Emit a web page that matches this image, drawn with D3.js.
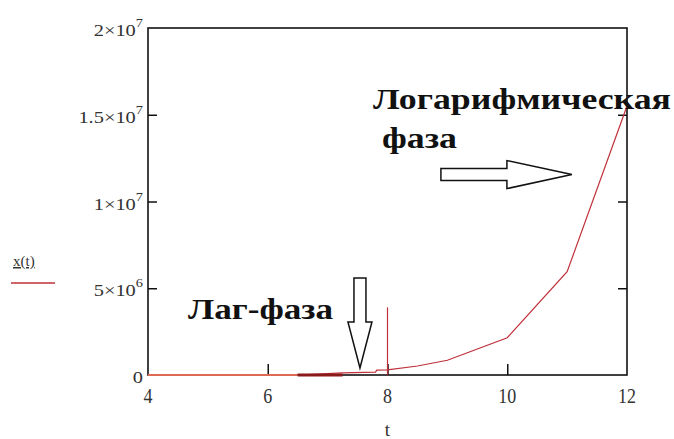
<!DOCTYPE html>
<html>
<head>
    <meta charset="utf-8">
    <script src="https://d3js.org/d3.v7.min.js"></script>
    <style>
        body { margin: 0; background: #fff; }
        .lbl { font-family: "Liberation Serif", serif; fill: #333; }
        .note { font-family: "Liberation Serif", serif; font-weight: bold; fill: #111; }
    </style>
</head>
<body>
    <div id="chart"></div>
    <script>
        // curve x(t)
        const tValues = [4, 6.5, 7.25, 7.8, 7.82, 8, 8.5, 9, 10, 11, 12];
        const xValues = [0, 0, 0.12e6, 0.17e6, 0.28e6, 0.3e6, 0.52e6, 0.85e6, 2.15e6, 5.95e6, 1.55e7];
        // lighter start and darker thick piece of the lag phase
        const flatT = [4, 6.5];
        const flatX = [0, 0];
        const lagT = [6.5, 7.25];
        const lagX = [0, 0];
        // vertical marker at t = 8
        const markerT = [8, 8];
        const markerX = [0, 3.9e6];

        const xTicks = [4, 6, 8, 10, 12];
        const yTicks = [0, 5e6, 1e7, 1.5e7, 2e7];
        const yTickMant = ["0", "5×10", "1×10", "1.5×10", "2×10"];
        const yTickExp = ["", "6", "7", "7", "7"];

        const W = 674, H = 439;
        const margin = { top: 28, right: 47, bottom: 64, left: 148 };

        const svg = d3.select("#chart").append("svg")
            .attr("width", W).attr("height", H);

        const x = d3.scaleLinear().domain([4, 12]).range([margin.left, W - margin.right]);
        const y = d3.scaleLinear().domain([0, 2e7]).range([H - margin.bottom, margin.top]);

        // inward ticks
        svg.append("g")
            .attr("transform", "translate(0," + y(0) + ")")
            .call(d3.axisBottom(x).tickValues([6, 8, 10]).tickSize(-11).tickFormat(""));
        svg.append("g")
            .attr("transform", "translate(" + x(4) + ",0)")
            .call(d3.axisLeft(y).tickValues([5e6, 1e7, 1.5e7]).tickSize(-9).tickFormat(""));
        svg.append("g")
            .attr("transform", "translate(" + x(12) + ",0)")
            .call(d3.axisRight(y).tickValues([5e6, 1e7, 1.5e7]).tickSize(-9).tickFormat(""));
        svg.selectAll(".domain").remove();
        svg.selectAll(".tick line").attr("stroke", "#111").attr("stroke-width", 1.5);

        // frame
        svg.append("rect")
            .attr("x", x(4)).attr("y", y(2e7))
            .attr("width", x(12) - x(4)).attr("height", y(0) - y(2e7))
            .attr("fill", "none").attr("stroke", "#111").attr("stroke-width", 1.6);

        // x tick labels
        svg.selectAll(".xl").data(xTicks).enter().append("text")
            .attr("class", "lbl")
            .attr("transform", d => "translate(" + x(d) + "," + (y(0) + 28) + ") scale(1,1.15)")
            .attr("text-anchor", "middle")
            .style("font-size", "18px")
            .text(d => d);

        // y tick labels
        const yl = svg.selectAll(".yl").data(yTicks).enter().append("text")
            .attr("class", "lbl")
            .attr("transform", d => "translate(" + (x(4) - 5) + "," + (y(d) + 8) + ") scale(1.2,1)")
            .attr("text-anchor", "end")
            .style("font-size", "17px");
        yl.append("tspan").text((d, i) => yTickMant[i]);
        yl.append("tspan").attr("dy", -9).style("font-size", "12px").text((d, i) => yTickExp[i]);

        // axis title
        svg.append("text").attr("class", "lbl")
            .attr("x", x(8)).attr("y", H - 3)
            .attr("text-anchor", "middle").style("font-size", "19px")
            .text("t");

        // legend
        svg.append("text").attr("class", "lbl")
            .attr("x", 13).attr("y", 266)
            .style("font-size", "15px").style("text-decoration", "underline")
            .text("x(t)");
        svg.append("line")
            .attr("x1", 11).attr("x2", 55).attr("y1", 283).attr("y2", 283)
            .attr("stroke", "#c0303a").attr("stroke-width", 1.5);

        const line = d3.line().x(d => x(d[0])).y(d => y(d[1]));

        svg.append("path")
            .datum(d3.zip(tValues, xValues))
            .attr("d", line)
            .attr("fill", "none")
            .attr("stroke", "#c0303a")
            .attr("stroke-width", 1.2);
        svg.append("path")
            .datum(d3.zip(flatT, flatX))
            .attr("d", line)
            .attr("fill", "none")
            .attr("stroke", "#dc6a55")
            .attr("stroke-width", 1.8);
        svg.append("path")
            .datum(d3.zip(lagT, lagX))
            .attr("d", line)
            .attr("fill", "none")
            .attr("stroke", "#8a1b1b")
            .attr("stroke-width", 3);
        svg.append("path")
            .datum(d3.zip(markerT, markerX))
            .attr("d", line)
            .attr("fill", "none")
            .attr("stroke", "#c0303a")
            .attr("stroke-width", 1.2);

        // annotations
        svg.append("text").attr("class", "note")
            .attr("x", 373).attr("y", 109)
            .attr("textLength", 298).attr("lengthAdjust", "spacingAndGlyphs")
            .style("font-size", "29px")
            .text("Логарифмическая");
        svg.append("text").attr("class", "note")
            .attr("x", 382).attr("y", 148)
            .attr("textLength", 75).attr("lengthAdjust", "spacingAndGlyphs")
            .style("font-size", "29px")
            .text("фаза");
        svg.append("text").attr("class", "note")
            .attr("x", 188).attr("y", 319)
            .attr("textLength", 145).attr("lengthAdjust", "spacingAndGlyphs")
            .style("font-size", "29px")
            .text("Лаг-фаза");

        // down arrow, tip at (7.54, 0.4e6)
        const tipD = [x(7.54), y(0.4e6)];
        const downPts = [[-6, -90], [6, -90], [6, -46], [12, -46], [0, 0], [-12, -46], [-6, -46]];
        svg.append("polygon")
            .attr("points", downPts.map(p => (tipD[0] + p[0]) + "," + (tipD[1] + p[1])).join(" "))
            .attr("fill", "#fff").attr("stroke", "#111").attr("stroke-width", 1.5);

        // right arrow, tip at (11.08, 1.155e7)
        const tipR = [x(11.08), y(1.155e7)];
        const rightPts = [[-131, -6], [-65, -6], [-65, -14], [0, 0], [-65, 14], [-65, 6], [-131, 6]];
        svg.append("polygon")
            .attr("points", rightPts.map(p => (tipR[0] + p[0]) + "," + (tipR[1] + p[1])).join(" "))
            .attr("fill", "#fff").attr("stroke", "#111").attr("stroke-width", 1.5);
    </script>
</body>
</html>
